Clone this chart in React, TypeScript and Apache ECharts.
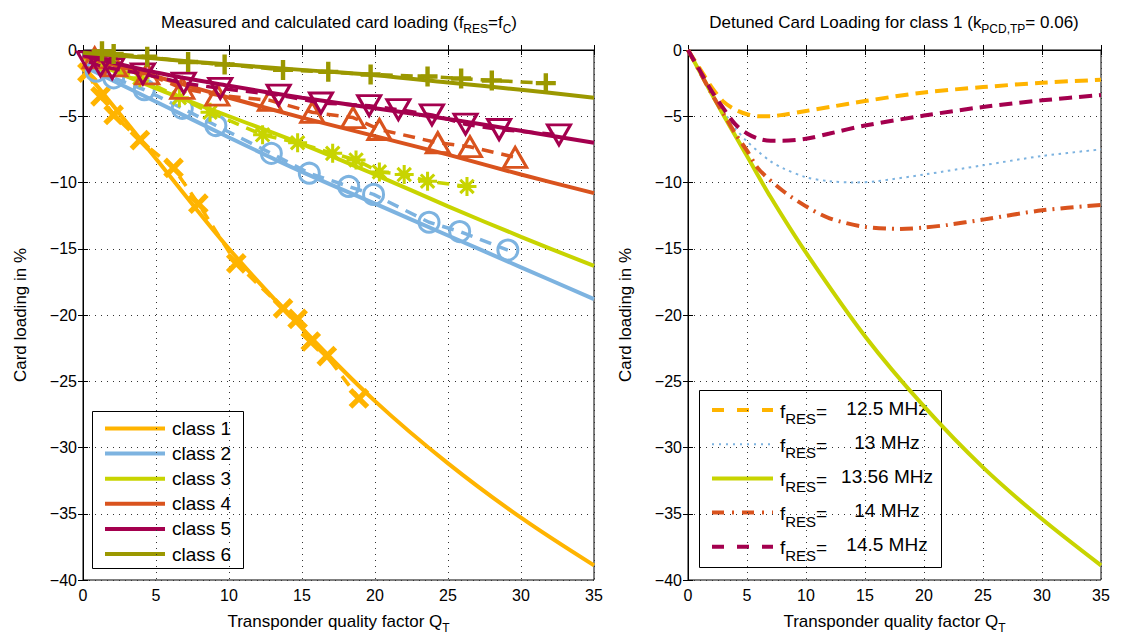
import React, { useEffect, useRef } from "react";
import * as echarts from "echarts";

// ---------- data ----------
const CLASS_NAMES = ["class 1", "class 2", "class 3", "class 4", "class 5", "class 6"];
const CLASS_COLORS = ["#ffb400", "#7db3e0", "#c8d400", "#d9531e", "#a4004e", "#9b9800"];

// calculated card loading (solid lines), [Q_T, %]
const CALC_1 = [[0, -1.4], [5, -8.2], [10, -15.0], [15, -21.0], [20, -26.5], [25, -31.2], [30, -35.3], [35, -38.9]];
const CALC_2 = [[0, -1.2], [5, -3.9], [10, -6.6], [15, -9.2], [20, -11.6], [25, -14.0], [30, -16.4], [35, -18.8]];
const CALC_3 = [[0, -0.6], [5, -2.9], [10, -5.0], [15, -7.1], [20, -9.4], [25, -11.8], [30, -14.1], [35, -16.3]];
const CALC_4 = [[0, -0.5], [5, -2.0], [10, -3.6], [15, -5.1], [20, -6.5], [25, -7.9], [30, -9.4], [35, -10.8]];
const CALC_5 = [[0, -0.4], [5, -1.7], [10, -2.7], [15, -3.6], [20, -4.4], [25, -5.2], [30, -6.1], [35, -7.0]];
const CALC_6 = [[0, -0.2], [5, -0.65], [10, -1.1], [15, -1.5], [20, -1.9], [25, -2.45], [30, -3.0], [35, -3.6]];

// measured card loading (dashed lines with markers)
const MEAS_1 = [[0.3, -1.7], [1.2, -3.5], [2.1, -4.9], [3.9, -6.8], [6.2, -8.9], [7.9, -11.6], [10.5, -16.1], [13.7, -19.5], [14.7, -20.3], [15.6, -22.0], [16.7, -23.1], [18.9, -26.3]];
const MEAS_2 = [[0.9, -1.6], [2.1, -2.1], [4.2, -3.0], [6.8, -4.4], [9.1, -5.7], [12.9, -7.8], [15.5, -9.3], [18.2, -10.3], [19.9, -10.9], [23.7, -13.0], [25.8, -13.7], [29.1, -15.1]];
const MEAS_3 = [[1.2, -0.9], [3.9, -2.1], [6.6, -3.6], [8.7, -4.7], [12.3, -6.4], [14.7, -7.0], [17.1, -7.8], [18.7, -8.3], [20.3, -9.2], [22.0, -9.4], [23.6, -9.9], [26.3, -10.3]];
const MEAS_4 = [[0.8, -0.6], [2.2, -1.2], [4.4, -1.8], [6.8, -2.9], [9.2, -3.4], [12.8, -3.8], [15.7, -4.7], [18.5, -5.1], [20.3, -6.0], [24.3, -7.0], [26.5, -7.3], [29.6, -8.1]];
const MEAS_5 = [[0.4, -0.9], [1.2, -1.2], [2.0, -1.4], [4.1, -1.8], [6.9, -2.5], [9.4, -2.9], [13.4, -3.4], [16.3, -4.0], [19.6, -4.2], [21.6, -4.5], [23.9, -4.9], [26.2, -5.6], [28.5, -6.0], [32.6, -6.4]];
const MEAS_6 = [[1.3, -0.1], [2.1, -0.3], [4.4, -0.5], [7.2, -0.9], [9.7, -1.1], [13.7, -1.5], [16.8, -1.65], [19.7, -1.85], [23.6, -2.0], [25.9, -2.15], [28.0, -2.3], [31.7, -2.5]];

// detuned card loading for class 1
const FREQ_LABELS = ["12.5 MHz", "13 MHz", "13.56 MHz", "14 MHz", "14.5 MHz"];
const FREQ_COLORS = ["#ffb400", "#7db3e0", "#c8d400", "#d9531e", "#a4004e"];
const DET_125 = [[0, 0], [1, -1.4], [2, -2.8], [3, -3.9], [4, -4.5], [5, -4.85], [6, -5.0], [7, -5.0], [8, -4.9], [10, -4.6], [12, -4.3], [15, -3.85], [20, -3.2], [25, -2.8], [30, -2.47], [35, -2.25]];
const DET_13 = [[0, 0], [1, -1.6], [2, -3.2], [3, -4.6], [4, -5.9], [5, -6.9], [6, -7.7], [7, -8.4], [8, -8.9], [10, -9.6], [12, -9.9], [14, -10.0], [16, -9.9], [20, -9.4], [25, -8.7], [30, -8.0], [35, -7.5]];
const DET_1356 = [[0, 0], [1, -1.65], [2, -3.3], [3, -4.9], [5, -8.0], [7, -11.1], [10, -15.3], [15, -21.6], [20, -26.9], [25, -31.5], [30, -35.4], [35, -38.9]];
const DET_14 = [[0, 0], [1, -1.65], [2, -3.3], [3, -4.8], [4, -6.3], [5, -7.6], [6, -9.0], [8, -10.6], [10, -11.8], [12, -12.7], [15, -13.35], [18, -13.5], [20, -13.4], [22, -13.2], [25, -12.8], [30, -12.1], [35, -11.7]];
const DET_145 = [[0, 0], [1, -1.55], [2, -3.1], [3, -4.4], [4, -5.6], [5, -6.3], [6, -6.7], [7, -6.85], [8, -6.85], [10, -6.7], [12, -6.3], [15, -5.7], [20, -4.95], [25, -4.3], [30, -3.8], [35, -3.4]];

const X_MIN = 0, X_MAX = 35, X_STEP = 5;
const Y_MIN = -40, Y_MAX = 0, Y_STEP = 5;

// ---------- styling ----------
const FONT_N = "'Liberation Sans Narrow', 'Arial Narrow', 'Liberation Sans', Arial, sans-serif";
const FONT = "'Liberation Sans', Arial, sans-serif";

const PLUS = "path://M7.8,0H12.2V7.8H20V12.2H12.2V20H7.8V12.2H0V7.8H7.8Z";
const STAR =
  "path://M8.4,0H11.6V8.4H20V11.6H11.6V20H8.4V11.6H0V8.4H8.4Z M1.8,4.1L4.1,1.8L18.2,15.9L15.9,18.2Z M4.1,18.2L1.8,15.9L15.9,1.8L18.2,4.1Z";

const CALC = [CALC_1, CALC_2, CALC_3, CALC_4, CALC_5, CALC_6];
const MEAS = [MEAS_1, MEAS_2, MEAS_3, MEAS_4, MEAS_5, MEAS_6];
const MARKERS: any[] = [
  { symbol: PLUS, symbolSize: 24, symbolRotate: 45, hollow: false },
  { symbol: "circle", symbolSize: 20, symbolRotate: 0, hollow: true },
  { symbol: STAR, symbolSize: 19, symbolRotate: 0, hollow: false },
  { symbol: "triangle", symbolSize: [23, 20], symbolRotate: 0, hollow: true },
  { symbol: "triangle", symbolSize: [23, 20], symbolRotate: 180, hollow: true },
  { symbol: PLUS, symbolSize: 20, symbolRotate: 0, hollow: false },
];
const DET = [DET_125, DET_13, DET_1356, DET_14, DET_145];
const DET_DASH: any[] = [[13, 7], [2.5, 4.5], "solid", [13, 6, 2, 6], [13, 7]];
const DET_WIDTH = [4, 2, 4, 4, 4];

const subRich = (size: number, font: string, pad: number) => ({
  s: { fontSize: size, fontFamily: font, color: "#000", padding: [pad, 0, 0, 0] },
});

function xAxisMain(gi: number) {
  return {
    type: "value",
    gridIndex: gi,
    min: X_MIN,
    max: X_MAX,
    interval: X_STEP,
    position: "bottom",
    axisLine: { show: true, lineStyle: { color: "#000", width: 1 } },
    axisTick: { show: true, inside: true, length: 5, lineStyle: { color: "#000" } },
    axisLabel: { color: "#000", fontSize: 16, fontFamily: FONT_N, margin: 7 },
    splitLine: { show: true, lineStyle: { type: [1, 5], color: "#333", width: 1 } },
    name: "Transponder quality factor Q{s|T}",
    nameLocation: "middle",
    nameGap: 28,
    nameTextStyle: { color: "#000", fontSize: 17, fontFamily: FONT_N, rich: subRich(12, FONT_N, 14) },
  };
}
function xAxisTop(gi: number) {
  return {
    type: "value",
    gridIndex: gi,
    min: X_MIN,
    max: X_MAX,
    interval: X_STEP,
    position: "top",
    axisLine: { show: true, lineStyle: { color: "#000", width: 1 } },
    axisTick: { show: true, inside: true, length: 5, lineStyle: { color: "#000" } },
    axisLabel: { show: false },
    splitLine: { show: false },
  };
}
function yAxisMain(gi: number) {
  return {
    type: "value",
    gridIndex: gi,
    min: Y_MIN,
    max: Y_MAX,
    interval: Y_STEP,
    position: "left",
    axisLine: { show: true, lineStyle: { color: "#000", width: 1 } },
    axisTick: { show: true, inside: true, length: 5, lineStyle: { color: "#000" } },
    axisLabel: {
      color: "#000",
      fontSize: 16,
      fontFamily: FONT_N,
      margin: 6,
      formatter: (v: number) => (v < 0 ? "\u2212" + Math.abs(v) : String(v)),
    },
    splitLine: { show: true, lineStyle: { type: [1, 5], color: "#333", width: 1 } },
    name: "Card loading in %",
    nameLocation: "middle",
    nameGap: 54,
    nameTextStyle: { color: "#000", fontSize: 17, fontFamily: FONT_N },
  };
}
function yAxisRight(gi: number) {
  return {
    type: "value",
    gridIndex: gi,
    min: Y_MIN,
    max: Y_MAX,
    interval: Y_STEP,
    position: "right",
    axisLine: { show: true, lineStyle: { color: "#000", width: 1 } },
    axisTick: { show: true, inside: true, length: 5, lineStyle: { color: "#000" } },
    axisLabel: { show: false },
    splitLine: { show: false },
  };
}

function buildOption() {
  const series: any[] = [];
  CLASS_NAMES.forEach((name, i) => {
    const c = CLASS_COLORS[i];
    series.push({
      name,
      type: "line",
      xAxisIndex: 0,
      yAxisIndex: 0,
      data: CALC[i],
      smooth: 0.35,
      symbol: "none",
      lineStyle: { color: c, width: 4 },
      silent: true,
      z: 2 + i * 2,
    });
    const m = MARKERS[i];
    series.push({
      name: name + " measured",
      type: "line",
      xAxisIndex: 0,
      yAxisIndex: 0,
      data: MEAS[i],
      symbol: m.symbol,
      symbolSize: m.symbolSize,
      symbolRotate: m.symbolRotate,
      showAllSymbol: true,
      lineStyle: { color: c, width: 3.5, type: [12, 8] },
      itemStyle: m.hollow
        ? { color: "rgba(0,0,0,0)", borderColor: c, borderWidth: 3 }
        : { color: c, borderWidth: 0 },
      silent: true,
      z: 3 + i * 2,
    });
  });
  FREQ_LABELS.forEach((label, i) => {
    series.push({
      name: "f_RES " + label,
      type: "line",
      xAxisIndex: 1,
      yAxisIndex: 1,
      data: DET[i],
      smooth: 0.3,
      symbol: "none",
      lineStyle: { color: FREQ_COLORS[i], width: DET_WIDTH[i], type: DET_DASH[i] },
      silent: true,
      z: 3,
    });
  });

  const graphic: any[] = [];
  // titles
  graphic.push({
    type: "text",
    x: 339,
    y: 22,
    style: {
      text: "Measured and calculated card loading (f{s|RES}=f{s|C})",
      fontSize: 17,
      fontFamily: FONT_N,
      fill: "#000",
      align: "center",
      verticalAlign: "middle",
      rich: subRich(12, FONT_N, 14),
    },
  });
  graphic.push({
    type: "text",
    x: 894,
    y: 22,
    style: {
      text: "Detuned Card Loading for class 1 (k{s|PCD,TP}= 0.06)",
      fontSize: 17,
      fontFamily: FONT_N,
      fill: "#000",
      align: "center",
      verticalAlign: "middle",
      rich: subRich(12, FONT_N, 14),
    },
  });

  // left legend
  const lg: any[] = [
    { type: "rect", shape: { x: 92.5, y: 411.5, width: 151, height: 157 }, style: { fill: "#fff", stroke: "#000", lineWidth: 1 } },
  ];
  CLASS_NAMES.forEach((name, i) => {
    const cy = 428.5 + i * 25.1;
    lg.push({ type: "line", shape: { x1: 105, y1: cy, x2: 165, y2: cy }, style: { stroke: CLASS_COLORS[i], lineWidth: 4 } });
    lg.push({
      type: "text",
      x: 172,
      y: cy,
      style: { text: name, fontSize: 19, fontFamily: FONT, fill: "#000", align: "left", verticalAlign: "middle" },
    });
  });
  graphic.push({ type: "group", children: lg, z: 100 });

  // right legend
  const rg: any[] = [
    { type: "rect", shape: { x: 699.5, y: 390.5, width: 242, height: 177 }, style: { fill: "#fff", stroke: "#000", lineWidth: 1 } },
  ];
  FREQ_LABELS.forEach((label, i) => {
    const cy = 410 + i * 34.2;
    const dash = DET_DASH[i];
    rg.push({
      type: "line",
      shape: { x1: 712, y1: cy, x2: 773, y2: cy },
      style: {
        stroke: FREQ_COLORS[i],
        lineWidth: DET_WIDTH[i],
        lineDash: dash === "solid" ? null : i === 1 ? [2, 5] : i === 3 ? [12, 8, 2, 8] : [12, 13],
      },
    });
    rg.push({
      type: "text",
      x: 780,
      y: cy + 1,
      style: {
        text: "f{s|RES}=",
        fontSize: 19,
        fontFamily: FONT,
        fill: "#000",
        align: "left",
        verticalAlign: "middle",
        rich: subRich(15, FONT, 15),
      },
    });
    rg.push({
      type: "text",
      x: 887,
      y: cy - 2,
      style: { text: label, fontSize: 19, fontFamily: FONT, fill: "#000", align: "center", verticalAlign: "middle" },
    });
  });
  graphic.push({ type: "group", children: rg, z: 100 });

  return {
    animation: false,
    backgroundColor: "#fff",
    grid: [
      { left: 83, top: 50, width: 511, height: 530, show: true, borderColor: "#000", borderWidth: 1, backgroundColor: "rgba(0,0,0,0)" },
      { left: 688, top: 50, width: 413, height: 530, show: true, borderColor: "#000", borderWidth: 1, backgroundColor: "rgba(0,0,0,0)" },
    ],
    xAxis: [xAxisMain(0), xAxisMain(1), xAxisTop(0), xAxisTop(1)],
    yAxis: [yAxisMain(0), yAxisMain(1), yAxisRight(0), yAxisRight(1)],
    series,
    graphic,
  };
}

export default function App() {
  const ref = useRef<HTMLDivElement>(null);
  useEffect(() => {
    document.body.style.margin = "0";
    if (!ref.current) return;
    const chart = echarts.init(ref.current, undefined, { renderer: "svg" });
    chart.setOption(buildOption() as any);
    return () => chart.dispose();
  }, []);
  return <div ref={ref} style={{ width: 1135, height: 642 }} />;
}
